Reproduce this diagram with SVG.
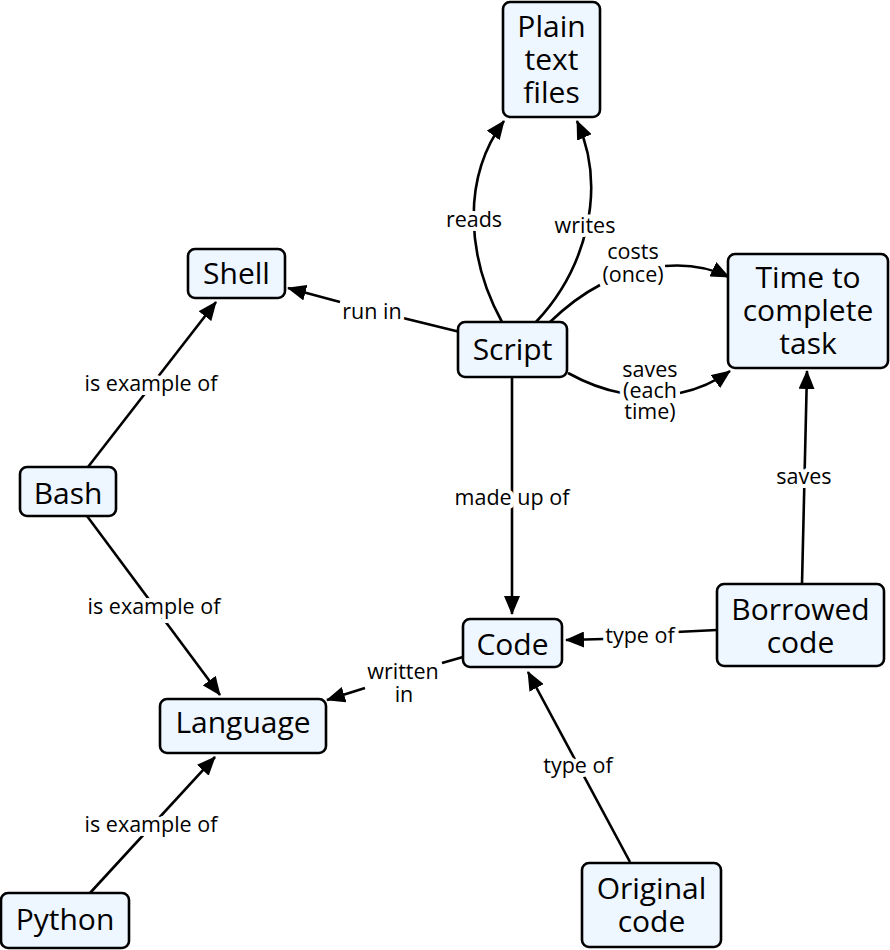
<svg xmlns="http://www.w3.org/2000/svg" width="890" height="950" viewBox="0 0 890 950">
<defs>
<marker id="arr" markerUnits="userSpaceOnUse" markerWidth="20" markerHeight="16" viewBox="0 0 20 16" refX="18" refY="8" orient="auto">
<path d="M0,0 L19,8 L0,16 z" fill="#000"/>
</marker>
<style>
.node rect{fill:#EEF6FF;stroke:#000;stroke-width:2.6}
.node text{font-family:"Open Sans","Liberation Sans",sans-serif;font-size:30px;fill:#000;text-anchor:middle}
.edge{fill:none;stroke:#000;stroke-width:2.6}
.arrow{marker-end:url(#arr)}
.lbl{font-family:"Open Sans","Liberation Sans",sans-serif;font-size:21.5px;fill:#000;text-anchor:middle;stroke:#fff;stroke-width:8;stroke-linejoin:round;paint-order:stroke}
</style>
</defs>
<g id="connectors">
<path class="edge arrow" d="M502,322 C468,260 460,180 504,121"/>
<path class="edge arrow" d="M536,322 C585,270 608,190 577,121"/>
<path class="edge" d="M550,322 Q575,298 600,285"/>
<path class="edge arrow" d="M665,266 Q700,263 729,277"/>
<path class="edge" d="M568,373 Q595,388 622,393"/>
<path class="edge arrow" d="M680,393 Q708,387 730,371"/>
<path class="edge" d="M460,332 L403,318"/>
<path class="edge arrow" d="M340,302 L288,288"/>
<path class="edge arrow" d="M512,377 L512,614"/>
<path class="edge arrow" d="M88,467 L216,302"/>
<path class="edge arrow" d="M87,516 L220,695"/>
<path class="edge arrow" d="M90,893 L215,757"/>
<path class="edge" d="M463,657 L442,663"/>
<path class="edge arrow" d="M365,688 L327,700"/>
<path class="edge" d="M717,630 L676,632"/>
<path class="edge arrow" d="M604,639 L566,640"/>
<path class="edge arrow" d="M630,862 L528,672"/>
<path class="edge arrow" d="M802,584 L807,371"/>
<text class="lbl" x="474" y="227">reads</text>
<text class="lbl" x="585" y="233">writes</text>
<text class="lbl" x="633" y="259">costs<tspan x="633" dy="23">(once)</tspan></text>
<text class="lbl" x="650" y="377">saves<tspan x="650" dy="21">(each</tspan><tspan x="650" dy="21">time)</tspan></text>
<text class="lbl" x="372" y="319">run in</text>
<text class="lbl" x="512" y="505">made up of</text>
<text class="lbl" x="151" y="391">is example of</text>
<text class="lbl" x="154" y="614">is example of</text>
<text class="lbl" x="151" y="832">is example of</text>
<text class="lbl" x="403" y="679">written<tspan x="404" dy="23">in</tspan></text>
<text class="lbl" x="640" y="643">type of</text>
<text class="lbl" x="578" y="773">type of</text>
<text class="lbl" x="804" y="484">saves</text>
</g>
<g id="plain-text-files" class="node"><rect x="503" y="2" width="97" height="115" rx="7"/><text x="551.5" y="37">Plain<tspan x="551.5" dy="33">text</tspan><tspan x="551.5" dy="33">files</tspan></text></g>
<g id="shell" class="node"><rect x="188" y="249" width="97" height="49" rx="7"/><text x="236.5" y="284">Shell</text></g>
<g id="script" class="node"><rect x="458" y="322" width="109" height="55" rx="7"/><text x="512.5" y="360">Script</text></g>
<g id="time-to-complete-task" class="node"><rect x="728" y="254" width="160" height="114" rx="7"/><text x="808" y="288">Time to<tspan x="808" dy="33">complete</tspan><tspan x="808" dy="33">task</tspan></text></g>
<g id="bash" class="node"><rect x="20" y="467" width="96" height="49" rx="7"/><text x="68" y="504">Bash</text></g>
<g id="code" class="node"><rect x="463" y="619" width="99" height="48" rx="7"/><text x="512.5" y="655">Code</text></g>
<g id="borrowed-code" class="node"><rect x="717" y="584" width="167" height="82" rx="7"/><text x="800.5" y="620">Borrowed<tspan x="800.5" dy="33">code</tspan></text></g>
<g id="language" class="node"><rect x="160" y="699" width="166" height="54" rx="7"/><text x="243" y="733">Language</text></g>
<g id="python" class="node"><rect x="1" y="893" width="128" height="55" rx="7"/><text x="65" y="930">Python</text></g>
<g id="original-code" class="node"><rect x="582" y="863" width="139" height="84" rx="7"/><text x="651.5" y="899">Original<tspan x="651.5" dy="33">code</tspan></text></g>
</svg>
